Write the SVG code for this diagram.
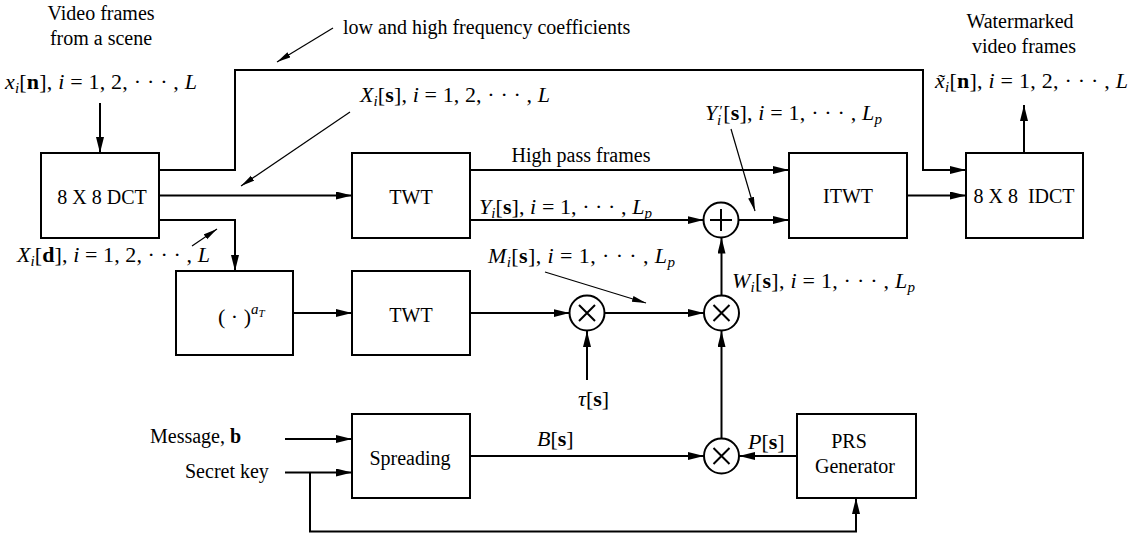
<svg xmlns="http://www.w3.org/2000/svg" width="1136" height="537" viewBox="0 0 1136 537">
<style>
.bx{fill:#fff;stroke:#000;stroke-width:2}
.c{fill:none;stroke:#000;stroke-width:2}
.p{fill:none;stroke:#000;stroke-width:1.2}
.t{font-family:"Liberation Serif","DejaVu Serif","Times New Roman",serif;font-size:20px;fill:#000}
.m{font-family:"Liberation Serif","DejaVu Serif","Times New Roman",serif;font-size:22px;fill:#000}
.i{font-style:italic}
.b{font-weight:bold}
.s{font-size:15px}
.mid{text-anchor:middle}
</style>
<defs>
<marker id="a" markerUnits="userSpaceOnUse" markerWidth="17" markerHeight="9" refX="16" refY="4" orient="auto"><path d="M0,0 L16,4 L0,8 z" fill="#000"/></marker>
<marker id="ap" markerUnits="userSpaceOnUse" markerWidth="15" markerHeight="7" refX="14" refY="3" orient="auto"><path d="M0,0 L14,3 L0,6 z" fill="#000"/></marker>
</defs>
<rect width="1136" height="537" fill="#fff"/>

<g id="connectors">
<path class="c" d="M100,103 V153" marker-end="url(#a)"/>
<path class="c" d="M159,170 H235 V70 H923 V170 H966" marker-end="url(#a)"/>
<path class="c" d="M159,195.5 H352" marker-end="url(#a)"/>
<path class="c" d="M159,220 H235 V271" marker-end="url(#a)"/>
<path class="c" d="M293,313 H352" marker-end="url(#a)"/>
<path class="c" d="M470,170 H789" marker-end="url(#a)"/>
<path class="c" d="M470,220 H703.5" marker-end="url(#a)"/>
<path class="c" d="M738.5,220 H789" marker-end="url(#a)"/>
<path class="c" d="M907,195.5 H966" marker-end="url(#a)"/>
<path class="c" d="M1024,153 V105" marker-end="url(#a)"/>
<path class="c" d="M470,313 H569.5" marker-end="url(#a)"/>
<path class="c" d="M605,313 H704" marker-end="url(#a)"/>
<path class="c" d="M587,380 V331" marker-end="url(#a)"/>
<path class="c" d="M721.5,295.5 V237.5" marker-end="url(#a)"/>
<path class="c" d="M721.5,438.5 V331" marker-end="url(#a)"/>
<path class="c" d="M470,456 H704" marker-end="url(#a)"/>
<path class="c" d="M797,456 H739" marker-end="url(#a)"/>
<path class="c" d="M285,439 H352" marker-end="url(#a)"/>
<path class="c" d="M285,472.5 H352" marker-end="url(#a)"/>
<path class="c" d="M310,472.5 V531.5 H856 V498" marker-end="url(#a)"/>
<path class="p" d="M333,28 L277,62" marker-end="url(#ap)"/>
<path class="p" d="M350,112 L241,186" marker-end="url(#ap)"/>
<path class="p" d="M192,246 L217,229" marker-end="url(#ap)"/>
<path class="p" d="M731,129 L755,211" marker-end="url(#ap)"/>
<path class="p" d="M545,272 L646,303" marker-end="url(#ap)"/>
</g>

<g id="dct"><rect class="bx" x="41" y="153" width="118" height="85"/><text class="t mid" x="102" y="204">8 X 8 DCT</text></g>
<g id="twt1"><rect class="bx" x="352" y="153" width="118" height="85"/><text class="t mid" x="411" y="204">TWT</text></g>
<g id="itwt"><rect class="bx" x="789" y="153" width="118" height="85"/><text class="t mid" x="848" y="203">ITWT</text></g>
<g id="idct"><rect class="bx" x="966" y="153" width="117" height="85"/><text class="t mid" x="1024" y="203" xml:space="preserve">8 X 8  IDCT</text></g>
<g id="power"><rect class="bx" x="176" y="271" width="117" height="84"/><text class="m" x="218" y="324">( · )<tspan class="i s" dy="-10">a</tspan><tspan class="i" font-size="11" dy="3">T</tspan></text></g>
<g id="twt2"><rect class="bx" x="352" y="271" width="118" height="84"/><text class="t mid" x="411" y="322">TWT</text></g>
<g id="plus"><circle class="c" cx="721" cy="220" r="17.5"/><path class="c" d="M721,209 V231 M710,220 H732"/></g>
<g id="mult1"><circle class="c" cx="587" cy="313" r="17.5"/><path class="c" d="M579,305 L595,321 M595,305 L579,321"/></g>
<g id="mult2"><circle class="c" cx="721.5" cy="313" r="17.5"/><path class="c" d="M713.5,305 L729.5,321 M729.5,305 L713.5,321"/></g>
<g id="mult3"><circle class="c" cx="721.5" cy="456" r="17.5"/><path class="c" d="M713.5,448 L729.5,464 M729.5,448 L713.5,464"/></g>
<g id="spreading"><rect class="bx" x="352" y="414" width="118" height="84"/><text class="t mid" x="410" y="465">Spreading</text></g>
<g id="prs"><rect class="bx" x="797" y="414" width="119" height="84"/><text class="t mid" x="849" y="448">PRS</text><text class="t mid" x="855" y="473">Generator</text></g>

<g id="labels">
<text class="t mid" x="101" y="20">Video frames</text>
<text class="t mid" x="101" y="45">from a scene</text>
<text class="t mid" x="1020" y="28">Watermarked</text>
<text class="t mid" x="1024" y="53">video frames</text>
<text class="t" x="343" y="34">low and high frequency coefficients</text>
<text class="t mid" x="581" y="162">High pass frames</text>
<text class="t" x="150" y="443">Message,  <tspan class="b">b</tspan></text>
<text class="t" x="185" y="478">Secret key</text>

<text class="m" x="5" y="89" textLength="192"><tspan class="i">x</tspan><tspan class="i s" dy="4">i</tspan><tspan dy="-4">[</tspan><tspan class="b">n</tspan>], <tspan class="i">i</tspan> = 1, 2, · · · , <tspan class="i">L</tspan></text>
<text class="m" x="935" y="88" textLength="193"><tspan class="i">x̃</tspan><tspan class="i s" dy="4">i</tspan><tspan dy="-4">[</tspan><tspan class="b">n</tspan>], <tspan class="i">i</tspan> = 1, 2, · · · , <tspan class="i">L</tspan></text>
<text class="m" x="360" y="102" textLength="190"><tspan class="i">X</tspan><tspan class="i s" dy="4">i</tspan><tspan dy="-4">[</tspan><tspan class="b">s</tspan>], <tspan class="i">i</tspan> = 1, 2, · · · , <tspan class="i">L</tspan></text>
<text class="m" x="17" y="262" textLength="193"><tspan class="i">X</tspan><tspan class="i s" dy="4">i</tspan><tspan dy="-4">[</tspan><tspan class="b">d</tspan>], <tspan class="i">i</tspan> = 1, 2, · · · , <tspan class="i">L</tspan></text>
<text class="m" x="705" y="120" textLength="177"><tspan class="i">Y</tspan><tspan dx="2" dy="-4" font-size="15">′</tspan><tspan class="i s" dx="-6" dy="9">i</tspan><tspan dx="2" dy="-5">[</tspan><tspan class="b">s</tspan>], <tspan class="i">i</tspan> = 1, · · · , <tspan class="i">L</tspan><tspan class="i s" dy="4">p</tspan></text>
<text class="m" x="479" y="214" textLength="173"><tspan class="i">Y</tspan><tspan class="i s" dy="4">i</tspan><tspan dy="-4">[</tspan><tspan class="b">s</tspan>], <tspan class="i">i</tspan> = 1, · · · , <tspan class="i">L</tspan><tspan class="i s" dy="4">p</tspan></text>
<text class="m" x="488" y="263" textLength="187"><tspan class="i">M</tspan><tspan class="i s" dy="4">i</tspan><tspan dy="-4">[</tspan><tspan class="b">s</tspan>], <tspan class="i">i</tspan> = 1, · · · , <tspan class="i">L</tspan><tspan class="i s" dy="4">p</tspan></text>
<text class="m" x="732" y="288" textLength="183"><tspan class="i">W</tspan><tspan class="i s" dy="4">i</tspan><tspan dy="-4">[</tspan><tspan class="b">s</tspan>], <tspan class="i">i</tspan> = 1, · · · , <tspan class="i">L</tspan><tspan class="i s" dy="4">p</tspan></text>
<text class="m" x="578" y="406"><tspan class="i">τ</tspan>[<tspan class="b">s</tspan>]</text>
<text class="m" x="537" y="446"><tspan class="i">B</tspan>[<tspan class="b">s</tspan>]</text>
<text class="m" x="748" y="449"><tspan class="i">P</tspan>[<tspan class="b">s</tspan>]</text>
</g>
</svg>
